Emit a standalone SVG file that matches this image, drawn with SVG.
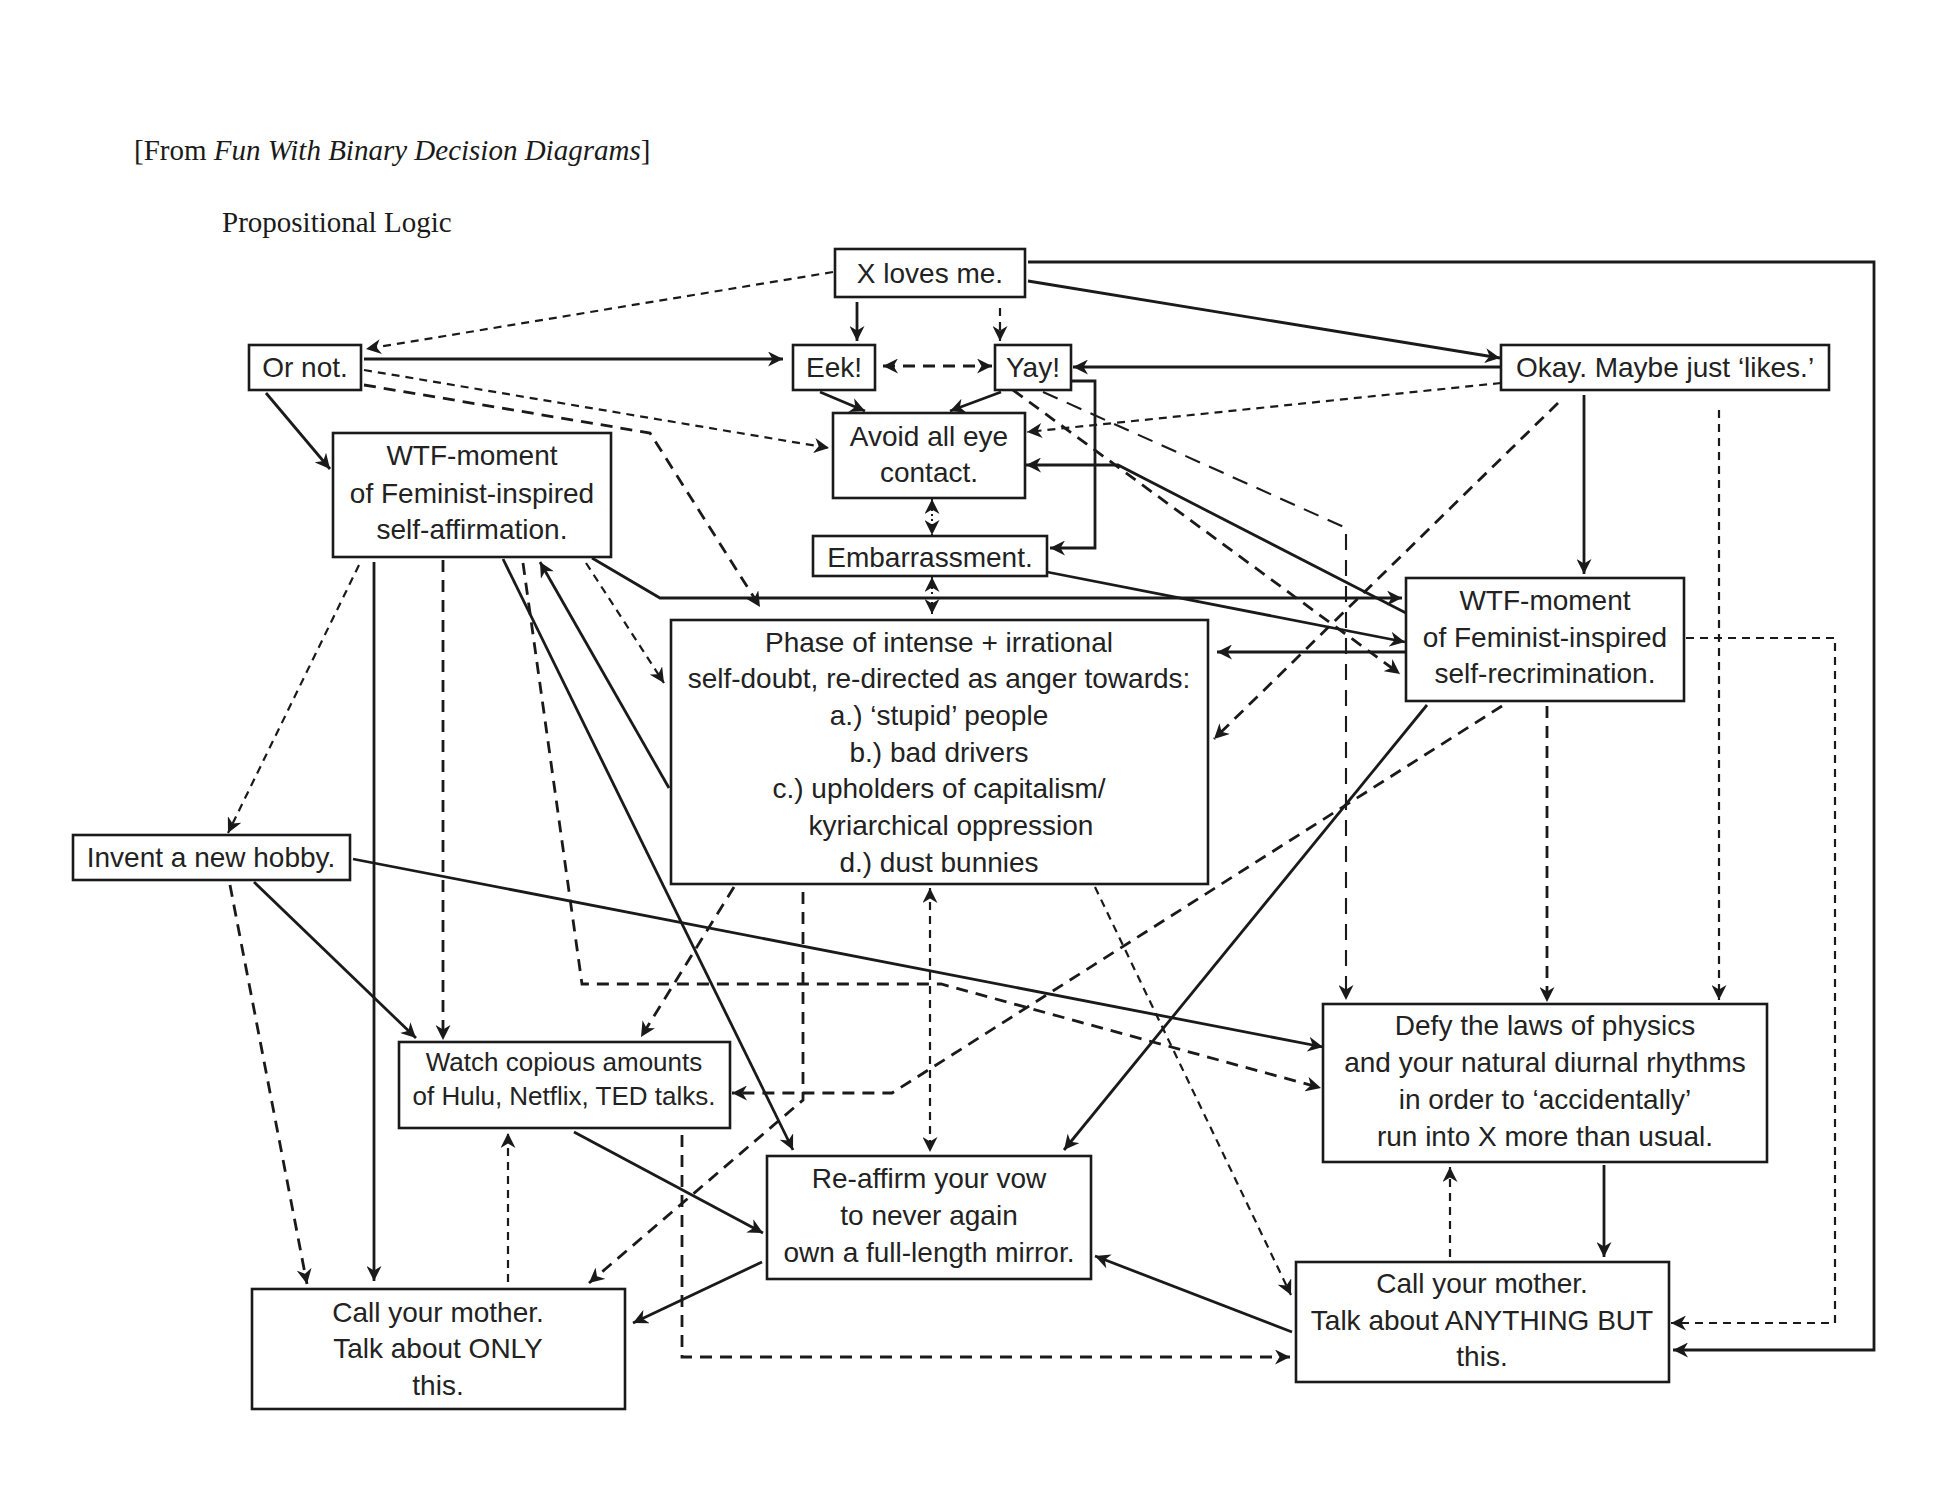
<svg xmlns="http://www.w3.org/2000/svg" width="1941" height="1500" viewBox="0 0 1941 1500">
<style>
.bg{fill:#fff}
.box{fill:#fff;stroke:#1a1a1a;stroke-width:2.6}
.t{font-family:"Liberation Sans",Arial,sans-serif;font-size:28px;fill:#222;text-anchor:middle}
.ts{font-size:26px}
.hd{font-family:"Liberation Serif","Times New Roman",serif;font-size:29px;fill:#1a1a1a}
.c{fill:none;stroke:#1a1a1a;stroke-width:2.8;stroke-linejoin:miter}
.s{marker-end:url(#ah)}
.d{stroke-dasharray:8 6;stroke-width:2.2}
.dl{stroke-dasharray:12 8;stroke-width:2.8}
.dx{stroke-dasharray:16 10;stroke-width:2.1}
.dt{stroke-dasharray:2 3;stroke-width:2}
.both{marker-start:url(#ah);marker-end:url(#ah)}
</style>
<defs>
<marker id="ah" viewBox="0 0 15 15" refX="15" refY="7.5" markerWidth="15" markerHeight="15" markerUnits="userSpaceOnUse" orient="auto-start-reverse">
<path d="M0,0 L15,7.5 L0,15 L4.5,7.5 z" fill="#1a1a1a"/>
</marker>
</defs>
<rect class="bg" x="0" y="0" width="1941" height="1500"/>
<g id="header">
<text class="hd" x="134" y="160">[From <tspan font-style="italic">Fun With Binary Decision Diagrams</tspan>]</text>
<text class="hd" x="222" y="232">Propositional Logic</text>
</g>
<g id="connectors">
<path class="c d s" d="M833,272 L366,349"/>
<path class="c s" d="M857,302 L857,341"/>
<path class="c d s" d="M1000,308 L1000,341"/>
<path class="c s" d="M1028,281 L1500,358"/>
<path class="c s" d="M1028,262 L1874,262 L1874,1350 L1673,1350"/>
<path class="c s" d="M364,359 L783,359"/>
<path class="c d s" d="M364,370 L829,448"/>
<path class="c dl s" d="M364,385 L650,433 L760,607"/>
<path class="c s" d="M266,393 L330,469"/>
<path class="c dl both" d="M883,366 L992,366"/>
<path class="c s" d="M820,392 L865,411"/>
<path class="c s" d="M1001,392 L950,411"/>
<path class="c s" d="M1071,381 L1095,381 L1095,548 L1050,548"/>
<path class="c s" d="M1500,367 L1073,367"/>
<path class="c d s" d="M1501,383 L1027,432"/>
<path class="c s" d="M1406,613 L1118,465 L1026,465"/>
<path class="c dt both" d="M932,499 L932,535"/>
<path class="c dt both" d="M932,577 L932,614"/>
<path class="c s" d="M1047,572 L1405,642"/>
<path class="c s" d="M592,558 L660,598 L1402,598"/>
<path class="c s" d="M1405,652 L1217,652"/>
<path class="c dl s" d="M1013,390 L1400,674"/>
<path class="c dx s" d="M1043,392 L1346,528 L1346,1000"/>
<path class="c s" d="M1584,395 L1584,574"/>
<path class="c dl s" d="M1558,403 L1214,739"/>
<path class="c d s" d="M1719,410 L1719,1000"/>
<path class="c dl s" d="M1547,706 L1547,1002"/>
<path class="c d s" d="M1686,638 L1835,638 L1835,1323 L1671,1323"/>
<path class="c s" d="M1427,705 L1064,1150"/>
<path class="c dl s" d="M1502,706 L892,1093 L732,1093"/>
<path class="c dl s" d="M734,887 L641,1037"/>
<path class="c dl s" d="M803,892 L803,1100 L589,1283"/>
<path class="c d both" d="M930,888 L930,1152"/>
<path class="c s" d="M669,788 L540,562"/>
<path class="c s" d="M503,559 L793,1150"/>
<path class="c dl s" d="M523,563 L582,984 L941,984 L1321,1088"/>
<path class="c dl s" d="M443,560 L443,1040"/>
<path class="c s" d="M374,562 L374,1281"/>
<path class="c d s" d="M359,565 L228,833"/>
<path class="c d s" d="M586,563 L664,683"/>
<path class="c s" d="M353,859 L1323,1047"/>
<path class="c s" d="M254,882 L416,1038"/>
<path class="c dl s" d="M230,885 L307,1284"/>
<path class="c d s" d="M508,1282 L508,1133"/>
<path class="c s" d="M574,1132 L763,1233"/>
<path class="c s" d="M762,1262 L633,1323"/>
<path class="c dl s" d="M682,1135 L682,1357 L1290,1357"/>
<path class="c s" d="M1292,1332 L1095,1256"/>
<path class="c d s" d="M1095,887 L1291,1295"/>
<path class="c s" d="M1604,1165 L1604,1257"/>
<path class="c d s" d="M1450,1257 L1450,1167"/>
</g>
<g id="n-xloves"><rect class="box" x="835" y="249" width="190" height="48"/><text class="t" x="930" y="283">X loves me.</text></g>
<g id="n-ornot"><rect class="box" x="249" y="345" width="112" height="45"/><text class="t" x="305" y="377">Or not.</text></g>
<g id="n-eek"><rect class="box" x="793" y="345" width="82" height="45"/><text class="t" x="834" y="377">Eek!</text></g>
<g id="n-yay"><rect class="box" x="995" y="345" width="76" height="45"/><text class="t" x="1033" y="377">Yay!</text></g>
<g id="n-okay"><rect class="box" x="1501" y="345" width="328" height="45"/><text class="t" x="1665" y="377">Okay. Maybe just ‘likes.’</text></g>
<g id="n-avoid"><rect class="box" x="833" y="413" width="192" height="85"/><text class="t" x="929" y="446">Avoid all eye</text><text class="t" x="929" y="482">contact.</text></g>
<g id="n-embarr"><rect class="box" x="813" y="536" width="234" height="40"/><text class="t" x="930" y="567">Embarrassment.</text></g>
<g id="n-wtfaff"><rect class="box" x="333" y="433" width="278" height="124"/><text class="t" x="472" y="465">WTF-moment</text><text class="t" x="472" y="503">of Feminist-inspired</text><text class="t" x="472" y="539">self-affirmation.</text></g>
<g id="n-wtfrec"><rect class="box" x="1406" y="578" width="278" height="123"/><text class="t" x="1545" y="610">WTF-moment</text><text class="t" x="1545" y="647">of Feminist-inspired</text><text class="t" x="1545" y="683">self-recrimination.</text></g>
<g id="n-phase"><rect class="box" x="671" y="620" width="537" height="264"/>
<text class="t" x="939" y="652">Phase of intense + irrational</text>
<text class="t" x="939" y="688">self-doubt, re-directed as anger towards:</text>
<text class="t" x="939" y="725">a.) ‘stupid’ people</text>
<text class="t" x="939" y="762">b.) bad drivers</text>
<text class="t" x="939" y="798">c.) upholders of capitalism/</text>
<text class="t" x="951" y="835">kyriarchical oppression</text>
<text class="t" x="939" y="872">d.) dust bunnies</text></g>
<g id="n-invent"><rect class="box" x="73" y="835" width="277" height="45"/><text class="t" x="211" y="867">Invent a new hobby.</text></g>
<g id="n-watch"><rect class="box" x="399" y="1042" width="331" height="86"/><text class="t ts" x="564" y="1071">Watch copious amounts</text><text class="t ts" x="564" y="1105">of Hulu, Netflix, TED talks.</text></g>
<g id="n-defy"><rect class="box" x="1323" y="1004" width="444" height="158"/><text class="t" x="1545" y="1035">Defy the laws of physics</text><text class="t" x="1545" y="1072">and your natural diurnal rhythms</text><text class="t" x="1545" y="1109">in order to ‘accidentally’</text><text class="t" x="1545" y="1146">run into X more than usual.</text></g>
<g id="n-reaffirm"><rect class="box" x="767" y="1156" width="324" height="123"/><text class="t" x="929" y="1188">Re-affirm your vow</text><text class="t" x="929" y="1225">to never again</text><text class="t" x="929" y="1262">own a full-length mirror.</text></g>
<g id="n-callonly"><rect class="box" x="252" y="1289" width="373" height="120"/><text class="t" x="438" y="1322">Call your mother.</text><text class="t" x="438" y="1358">Talk about ONLY</text><text class="t" x="438" y="1395">this.</text></g>
<g id="n-callany"><rect class="box" x="1296" y="1262" width="373" height="120"/><text class="t" x="1482" y="1293">Call your mother.</text><text class="t" x="1482" y="1330">Talk about ANYTHING BUT</text><text class="t" x="1482" y="1366">this.</text></g>
</svg>
